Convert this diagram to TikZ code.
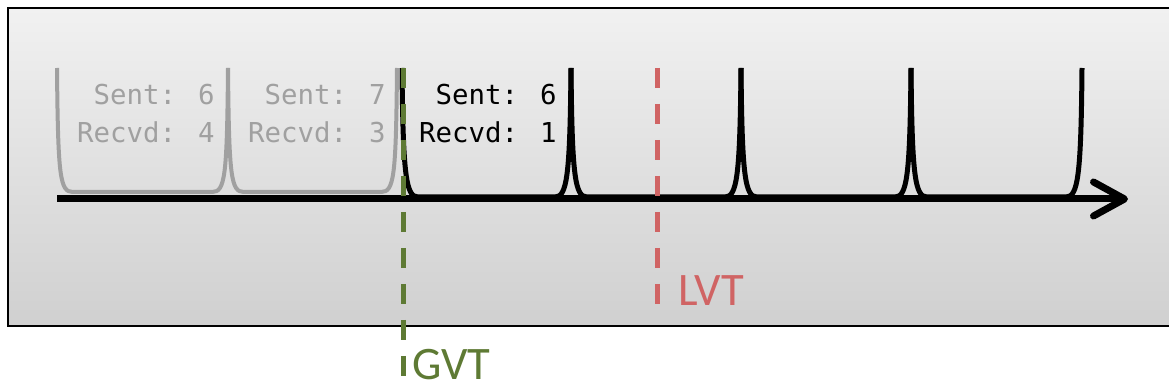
\documentclass[tikz,border=0pt]{standalone}
\usepackage{fontspec}
\newfontfamily\countfont{DejaVu Sans Mono}
\newfontfamily\markfont{Carlito}
\usetikzlibrary{arrows.meta}

\definecolor{gvtgreen}{RGB}{94,122,52}
\definecolor{lvtred}{RGB}{208,100,100}
\definecolor{oldgray}{RGB}{160,160,160}

\begin{document}
\begin{tikzpicture}[
    x = 0.02cm, y = -0.02cm,
    counts/.style = {
      anchor = east, align = right, inner sep = 0pt,
      font = \countfont\fontsize{15.6pt}{21.6pt}\selectfont
    },
    marklabel/.style = {
      anchor = base west, inner sep = 0pt,
      font = \markfont\fontsize{26.5pt}{30pt}\selectfont
    },
    markline/.style = {line width = 0.1cm, dash pattern = on 0.4cm off 0.32cm},
    oldlines/.style = {draw = oldgray, line width = 0.08cm},
    newlines/.style = {draw = black, line width = 0.1cm}
  ]
      \useasboundingbox (0,0) rectangle (1169,391);
      % panel
      \shade [top color = gray!11, bottom color = gray!37] (8,8) rectangle (1180,326);
      \draw [line width = 0.04cm] (8,8) rectangle (1180,326);

      % committed (old) intervals
      \foreach \a/\b in {57/228, 228/397}
        \draw [oldlines] (\a,68) .. controls (\a+1,178) and (\a+3,192) .. (\a+16,192)
          -- (\b-16,192) .. controls (\b-3,192) and (\b-1,178) .. (\b,68);
      % current intervals
      \foreach \a/\b in {402/571, 571/741, 741/911, 911/1082}
        \draw [newlines] (\a,68) .. controls (\a+1,176) and (\a+4,197) .. (\a+16,197)
          -- (\b-16,197) .. controls (\b-4,197) and (\b-1,176) .. (\b,68);

      % time axis
      \coordinate (axis-start) at (57,199);
      \coordinate (axis-end) at (1128,199);
      \draw [line width = 0.14cm,
        -{Straight Barb[length = 0.62cm, width = 0.68cm, round]}]
        (axis-start) -- (axis-end);

      % counters
      \node (count-1) [counts, text = oldgray] at (215,114) {Sent: 6\\Recvd: 4};
      \node (count-2) [counts, text = oldgray] at (386,114) {Sent: 7\\Recvd: 3};
      \node (count-3) [counts] at (557,114) {Sent: 6\\Recvd: 1};

      % virtual times
      \coordinate (gvt-top) at (403,68);
      \coordinate (gvt-bottom) at (403,391);
      \coordinate (lvt-top) at (657,68);
      \coordinate (lvt-bottom) at (657,310);
      \draw [markline, draw = gvtgreen] (gvt-top) -- (gvt-bottom);
      \draw [markline, draw = lvtred] (lvt-top) -- (lvt-bottom);
      \node (gvt) [marklabel, text = gvtgreen] at (412,379) {GVT};
      \node (lvt) [marklabel, text = lvtred] at (678,306) {LVT};
\end{tikzpicture}
\end{document}
